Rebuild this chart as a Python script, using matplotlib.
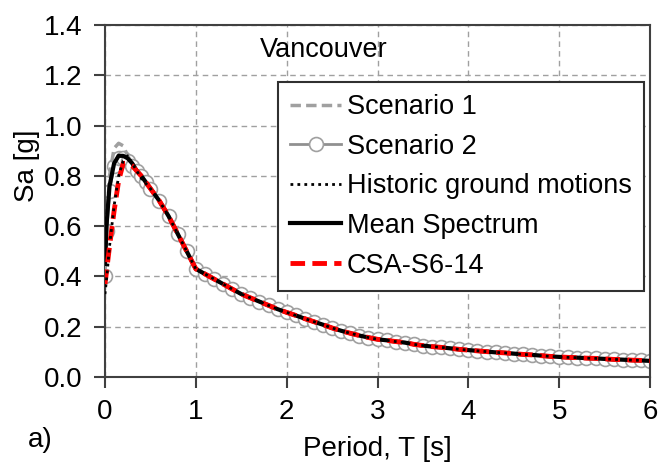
import matplotlib
matplotlib.use("Agg")
import matplotlib.pyplot as plt

plt.rcParams['font.family'] = ['Liberation Sans', 'DejaVu Sans']

# Period values [s]
period_head = [0.0, 0.02, 0.05, 0.1, 0.15, 0.2, 0.25, 0.3, 0.35, 0.4, 0.45]
period_tail = [0.5, 0.6, 0.7, 0.8, 0.9, 1.0, 1.1, 1.2, 1.3, 1.4, 1.5, 1.6, 1.7, 1.8, 1.9,
               2.0, 2.1, 2.2, 2.3, 2.4, 2.5, 2.6, 2.7, 2.8, 2.9,
               3.0, 3.1, 3.2, 3.3, 3.4, 3.5, 3.6, 3.7, 3.8, 3.9,
               4.0, 4.1, 4.2, 4.3, 4.4, 4.5, 4.6, 4.7, 4.8, 4.9,
               5.0, 5.1, 5.2, 5.3, 5.4, 5.5, 5.6, 5.7, 5.8, 5.9, 6.0]

# Sa [g] at short periods, one list per curve
scen1_head = [0.42, 0.62, 0.80, 0.91, 0.93, 0.92, 0.88, 0.85, 0.82, 0.80, 0.775]
scen2_head = [0.40, 0.58, 0.74, 0.84, 0.87, 0.87, 0.86, 0.84, 0.82, 0.80, 0.775]
hist_head = [0.33, 0.40, 0.52, 0.68, 0.80, 0.86, 0.88, 0.85, 0.82, 0.79, 0.77]
mean_head = [0.45, 0.62, 0.76, 0.85, 0.88, 0.88, 0.87, 0.85, 0.82, 0.80, 0.775]
csa_head = [0.37, 0.43, 0.52, 0.66, 0.78, 0.85, 0.85, 0.84, 0.82, 0.80, 0.775]

# beyond 0.5 s all curves lie on top of each other
sa_tail = [0.75, 0.70, 0.64, 0.57, 0.50, 0.43, 0.41, 0.39, 0.37, 0.35, 0.33, 0.315, 0.30, 0.285, 0.27,
           0.257, 0.245, 0.232, 0.220, 0.208, 0.195, 0.184, 0.174, 0.165, 0.157,
           0.150, 0.146, 0.141, 0.137, 0.130, 0.125, 0.121, 0.118, 0.114, 0.110,
           0.107, 0.104, 0.101, 0.098, 0.096, 0.093, 0.090, 0.088, 0.085, 0.082,
           0.080, 0.078, 0.077, 0.075, 0.074, 0.072, 0.070, 0.069, 0.067, 0.066, 0.064]

labels = ["Scenario 1", "Scenario 2", "Historic ground motions", "Mean Spectrum", "CSA-S6-14"]

T = period_head + period_tail

fig = plt.figure(figsize=(6.62, 4.66), dpi=100)
ax = fig.add_axes([0.1586, 0.191, 0.8233, 0.755])

ax.plot(T, scen2_head + sa_tail, color="#909090", lw=2, marker="o", ms=10,
        mfc="white", mec="#a0a0a0", mew=1.2, label=labels[1], zorder=2)
ax.plot(T, scen1_head + sa_tail, color="#a0a0a0", lw=2.5, ls=(0, (3, 1.5)),
        label=labels[0], zorder=3)
ax.plot(T, mean_head + sa_tail, color="black", lw=3, label=labels[3], zorder=4)
ax.plot(T, csa_head + sa_tail, color="#ff0000", lw=3.5, ls=(0, (3, 1.5)),
        label=labels[4], zorder=5)
ax.plot(T, hist_head + sa_tail, color="black", lw=2, ls=(0, (1, 1.5)),
        label=labels[2], zorder=6)

ax.set_xlim(0, 6)
ax.set_ylim(0, 1.4)
ax.set_xticks(range(0, 7))
ax.set_yticks([0.0, 0.2, 0.4, 0.6, 0.8, 1.0, 1.2, 1.4])
ax.yaxis.set_major_formatter(matplotlib.ticker.FormatStrFormatter("%.1f"))
ax.grid(True, color="#a0a0a0", ls=(0, (4, 3)), lw=1)
ax.set_axisbelow(True)
for s in ax.spines.values():
    s.set_color("#404040")
    s.set_linewidth(1.5)
ax.tick_params(axis="both", labelsize=20, length=8, width=1.5, color="#404040", direction="out")
ax.tick_params(axis="y", pad=8)
ax.tick_params(axis="x", pad=8)

ax.set_xlabel("Period, T [s]", fontsize=20)
ax.set_ylabel("Sa [g]", fontsize=20)
ax.xaxis.set_label_coords(0.5, -0.168)
ax.yaxis.set_label_coords(-0.12, 0.60)

ax.text(1.7, 1.3, "Vancouver", fontsize=19.5, va="center", ha="left")
fig.text(40 / 662, 1 - 440 / 466, "a)", fontsize=20, ha="center", va="center")

handles, labs = ax.get_legend_handles_labels()
order = [labs.index(l) for l in labels]
leg = ax.legend([handles[i] for i in order], [labs[i] for i in order],
                loc="upper left", bbox_to_anchor=(0.317, 0.838), borderaxespad=0,
                fontsize=19.5, frameon=True, fancybox=False, framealpha=1,
                edgecolor="#303030", handlelength=1.9, handletextpad=0.2,
                labelspacing=0.5, borderpad=0.45, numpoints=1)
leg.get_frame().set_linewidth(1.5)

fig.savefig("out.png", dpi=100)
